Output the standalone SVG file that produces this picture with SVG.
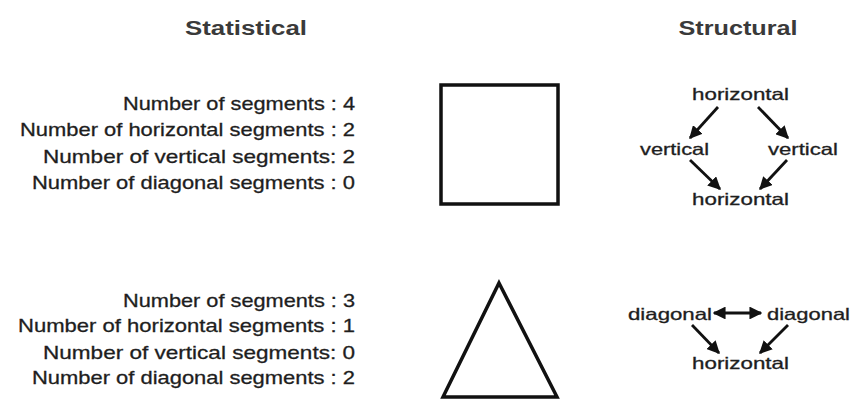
<svg xmlns="http://www.w3.org/2000/svg" width="853" height="400" viewBox="0 0 853 400">
<defs>
<style>
.title{font-family:"Liberation Sans",Arial,sans-serif;font-weight:bold;font-size:20px;fill:#3a3a3a;text-anchor:middle}
.stat{font-family:"Liberation Sans",Arial,sans-serif;font-size:19px;fill:#1e1e1e;stroke:#1e1e1e;stroke-width:0.3;text-anchor:end}
.lbl{font-family:"Liberation Sans",Arial,sans-serif;font-size:16.5px;fill:#1e1e1e;stroke:#1e1e1e;stroke-width:0.3}
.shape{fill:none;stroke:#111;stroke-width:3.5;stroke-linejoin:miter}
.arr{stroke:#111;stroke-width:2.8;fill:none}
</style>
<marker id="ah" viewBox="0 0 10 10" refX="9" refY="5" markerWidth="4.6" markerHeight="4.6" orient="auto-start-reverse" markerUnits="strokeWidth">
<path d="M0,0 L10,5 L0,10 z" fill="#111"/>
</marker>
</defs>
<rect width="853" height="400" fill="#ffffff"/>

<g id="titles">
<text class="title" x="246" y="35" textLength="122" lengthAdjust="spacingAndGlyphs">Statistical</text>
<text class="title" x="738" y="35" textLength="119" lengthAdjust="spacingAndGlyphs">Structural</text>
</g>

<g id="stats-square">
<text class="stat" x="355" y="110" textLength="232" lengthAdjust="spacingAndGlyphs">Number of segments : 4</text>
<text class="stat" x="355" y="136" textLength="335" lengthAdjust="spacingAndGlyphs">Number of horizontal segments : 2</text>
<text class="stat" x="355" y="163" textLength="312" lengthAdjust="spacingAndGlyphs">Number of vertical segments: 2</text>
<text class="stat" x="355" y="189" textLength="323" lengthAdjust="spacingAndGlyphs">Number of diagonal segments : 0</text>
</g>

<g id="stats-triangle">
<text class="stat" x="355" y="307" textLength="232" lengthAdjust="spacingAndGlyphs">Number of segments : 3</text>
<text class="stat" x="355" y="332" textLength="337" lengthAdjust="spacingAndGlyphs">Number of horizontal segments : 1</text>
<text class="stat" x="355" y="359" textLength="312" lengthAdjust="spacingAndGlyphs">Number of vertical segments: 0</text>
<text class="stat" x="355" y="384" textLength="323" lengthAdjust="spacingAndGlyphs">Number of diagonal segments : 2</text>
</g>

<g id="square">
<rect class="shape" x="441" y="85" width="117" height="119"/>
</g>

<g id="triangle">
<polygon class="shape" points="499,283 557,397 443,397"/>
</g>

<g id="node-sq-top">
<text class="lbl" x="692" y="100" textLength="97" lengthAdjust="spacingAndGlyphs">horizontal</text>
</g>
<g id="node-sq-left">
<text class="lbl" x="640" y="155" textLength="69" lengthAdjust="spacingAndGlyphs">vertical</text>
</g>
<g id="node-sq-right">
<text class="lbl" x="768" y="155" textLength="70" lengthAdjust="spacingAndGlyphs">vertical</text>
</g>
<g id="node-sq-bottom">
<text class="lbl" x="692" y="205" textLength="97" lengthAdjust="spacingAndGlyphs">horizontal</text>
</g>

<g id="node-tri-left">
<text class="lbl" x="628" y="320" textLength="84" lengthAdjust="spacingAndGlyphs">diagonal</text>
</g>
<g id="node-tri-right">
<text class="lbl" x="767" y="320" textLength="83" lengthAdjust="spacingAndGlyphs">diagonal</text>
</g>
<g id="node-tri-bottom">
<text class="lbl" x="692" y="369" textLength="97" lengthAdjust="spacingAndGlyphs">horizontal</text>
</g>

<g id="connectors">
<line class="arr" x1="718" y1="107" x2="690" y2="138" marker-end="url(#ah)"/>
<line class="arr" x1="758" y1="107" x2="788" y2="138" marker-end="url(#ah)"/>
<line class="arr" x1="690" y1="160" x2="720" y2="189" marker-end="url(#ah)"/>
<line class="arr" x1="787" y1="160" x2="760" y2="189" marker-end="url(#ah)"/>
<line class="arr" x1="714" y1="313" x2="761" y2="313" marker-start="url(#ah)" marker-end="url(#ah)"/>
<line class="arr" x1="692" y1="325" x2="719" y2="353" marker-end="url(#ah)"/>
<line class="arr" x1="788" y1="325" x2="760" y2="353" marker-end="url(#ah)"/>
</g>
</svg>
